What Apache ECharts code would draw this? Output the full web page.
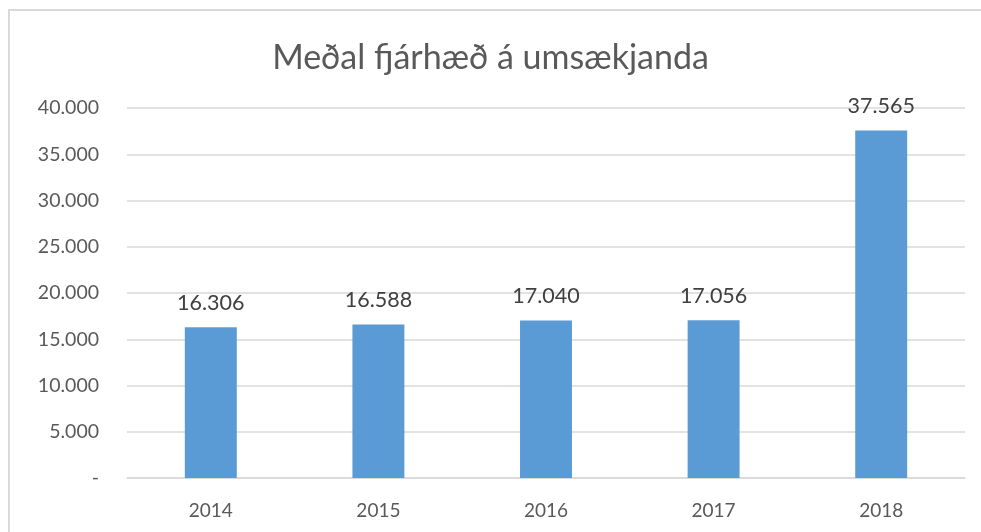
<!DOCTYPE html>
<html>
<head>
<meta charset="utf-8">
<script src="https://cdn.jsdelivr.net/npm/echarts@6/dist/echarts.min.js"></script>
<style>
  html, body { margin: 0; padding: 0; background: #fff; }
  #chart { width: 981px; height: 532px; }
</style>
</head>
<body>
<div id="chart"></div>
<script>
// gögn
const titleText = 'Meðal fjárhæð á umsækjanda'
const years = ['2014', '2015', '2016', '2017', '2018']
const amounts = [16306, 16588, 17040, 17056, 37565]

function fmt(v) {
  if (v === 0) return '-'
  return String(v).replace(/\B(?=(\d{3})+(?!\d))/g, '.')
}

const chart = echarts.init(document.getElementById('chart'))
chart.setOption({
  animation: false,
  textStyle: { fontFamily: 'Lato' },
  title: {
    text: titleText,
    left: 'center',
    top: 36,
    textStyle: { fontSize: 34, fontWeight: 'normal', color: '#595959', fontFamily: 'Lato' }
  },
  graphic: [{
    type: 'rect',
    shape: { x: 9, y: 10, width: 1000, height: 600 },
    style: { fill: 'none', stroke: '#d9d9d9', lineWidth: 2 },
    silent: true
  }],
  grid: { left: 127, right: 16, top: 108, bottom: 54 },
  xAxis: {
    type: 'category',
    data: years,
    axisTick: { show: false },
    axisLine: { lineStyle: { color: '#d9d9d9', width: 1.5 } },
    axisLabel: { color: '#595959', fontSize: 19, margin: 23 }
  },
  yAxis: {
    type: 'value',
    min: 0,
    max: 40000,
    interval: 5000,
    axisLine: { show: false },
    axisTick: { show: false },
    splitLine: { lineStyle: { color: '#d9d9d9', width: 1.5 } },
    axisLabel: { color: '#595959', fontSize: 19.5, margin: 28, formatter: fmt }
  },
  series: [{
    type: 'bar',
    data: amounts,
    barWidth: '31%',
    itemStyle: { color: '#5b9bd5' },
    label: {
      show: true,
      position: 'top',
      distance: 13,
      color: '#404040',
      fontSize: 21.5,
      formatter: p => fmt(p.value)
    }
  }]
})
</script>
</body>
</html>
